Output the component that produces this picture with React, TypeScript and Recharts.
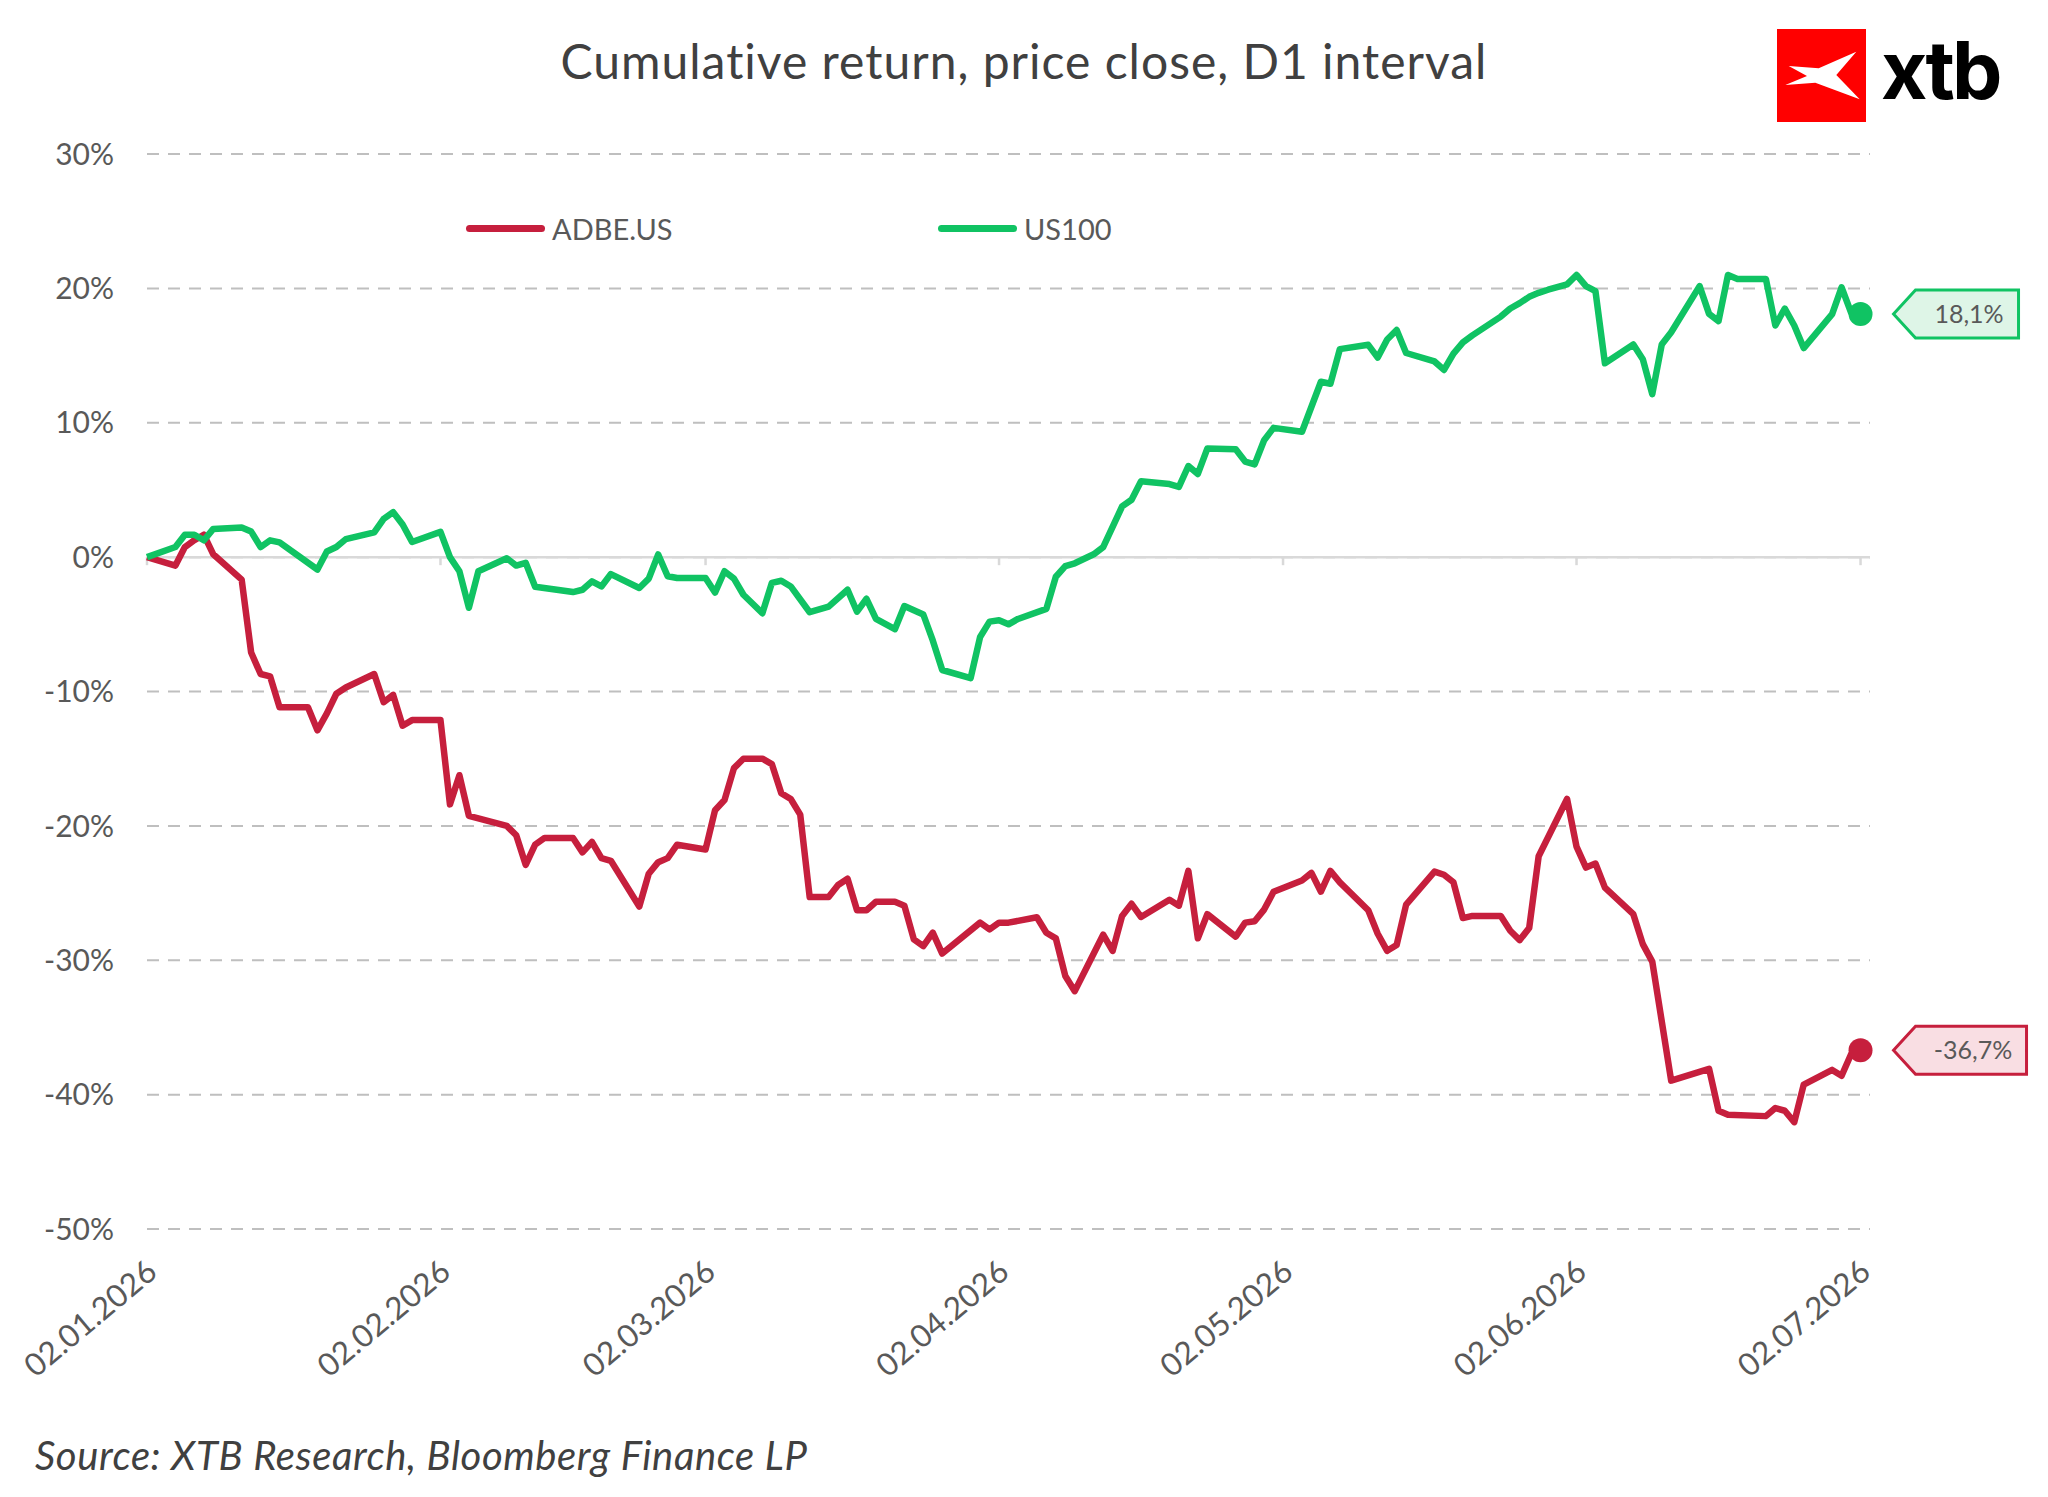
import { LineChart, Line, XAxis, YAxis, CartesianGrid, ReferenceLine, LabelList } from "recharts"

const FONT = "Lato, 'Open Sans', sans-serif"
const TEXT_GREY = "#595959"

// x axis: days counted from 02.01.2026
const monthTicks = [0, 31, 59, 90, 120, 151, 181]
const monthLabels = ["02.01.2026", "02.02.2026", "02.03.2026", "02.04.2026", "02.05.2026", "02.06.2026", "02.07.2026"]
const yTicks = [-50, -40, -30, -20, -10, 0, 10, 20, 30]

const adbeDays = [
  0, 3, 4, 5, 6, 7, 10, 11, 12, 13, 14, 17, 18, 19, 20, 21, 24, 25, 26, 27, 28, 31, 32, 33, 34, 38, 39, 40, 41, 42,
  45, 46, 47, 48, 49, 52, 53, 54, 55, 56, 59, 60, 61, 62, 63, 65, 66, 67, 68, 69, 70, 72, 73, 74, 75, 76, 77, 79, 80,
  81, 82, 83, 84, 88, 89, 90, 91, 94, 95, 96, 97, 98, 101, 102, 103, 104, 105, 108, 109, 110, 111, 112, 115, 116, 117,
  118, 119, 122, 123, 124, 125, 126, 129, 130, 131, 132, 133, 136, 137, 138, 139, 140, 143, 144, 145, 146, 147, 150,
  151, 152, 153, 154, 157, 158, 159, 161, 165, 166, 167, 171, 172, 173, 174, 175, 178, 179, 180, 181,
]
const adbeValues = [
  0, -0.63, 0.75, 1.26, 1.67, 0.21, -1.67, -7.1, -8.7, -8.87, -11.17, -11.17, -12.89, -11.63, -10.17, -9.7, -8.7,
  -10.8, -10.25, -12.55, -12.13, -12.13, -18.4, -16.23, -19.25, -20.0, -20.7, -22.9, -21.4, -20.9, -20.9, -21.97,
  -21.2, -22.4, -22.6, -26.0, -23.56, -22.7, -22.4, -21.4, -21.76, -18.83, -18.08, -15.7, -15.0, -15.0, -15.4, -17.57,
  -18.0, -19.16, -25.3, -25.3, -24.4, -23.93, -26.28, -26.28, -25.65, -25.65, -25.94, -28.45, -28.95, -27.95, -29.5,
  -27.2, -27.7, -27.2, -27.2, -26.8, -27.95, -28.37, -31.17, -32.3, -28.1, -29.3, -26.7, -25.8, -26.78, -25.5, -25.94,
  -23.35, -28.37, -26.57, -28.24, -27.2, -27.1, -26.23, -24.9, -24.06, -23.5, -24.9, -23.35, -24.2, -26.28, -28.03,
  -29.3, -28.87, -25.86, -23.4, -23.64, -24.2, -26.86, -26.7, -26.7, -27.8, -28.5, -27.6, -22.26, -18.0, -21.55, -23.1,
  -22.8, -24.6, -26.57, -28.8, -30.1, -38.96, -38.08, -41.2, -41.5, -41.6, -41.0, -41.2, -42.05, -39.25, -38.16, -38.6,
  -37.0, -36.7,
]

const us100Days = [
  0, 3, 4, 5, 6, 7, 10, 11, 12, 13, 14, 18, 19, 20, 21, 24, 25, 26, 27, 28, 31, 32, 33, 34, 35, 38, 39, 40, 41, 45, 46,
  47, 48, 49, 52, 53, 54, 55, 56, 59, 60, 61, 62, 63, 65, 66, 67, 68, 70, 72, 74, 75, 76, 77, 79, 80, 82, 83, 84, 87,
  88, 89, 90, 91, 92, 95, 96, 97, 98, 100, 101, 103, 104, 105, 108, 109, 110, 111, 112, 115, 116, 117, 118, 119, 122,
  124, 125, 126, 129, 130, 131, 132, 133, 136, 137, 138, 139, 140, 143, 144, 145, 146, 147, 148, 150, 151, 152, 153,
  154, 157, 158, 159, 160, 161, 164, 165, 166, 167, 168, 171, 172, 173, 174, 175, 178, 179, 180, 181,
]
const us100Values = [
  0, 0.75, 1.67, 1.67, 1.25, 2.1, 2.2, 1.9, 0.75, 1.25, 1.1, -0.92, 0.42, 0.75, 1.34, 1.84, 2.85, 3.35, 2.43, 1.13,
  1.88, 0.0, -1.05, -3.77, -1.05, -0.08, -0.63, -0.42, -2.2, -2.6, -2.43, -1.8, -2.18, -1.26, -2.3, -1.6, 0.2, -1.42,
  -1.55, -1.55, -2.64, -1.05, -1.6, -2.8, -4.18, -1.92, -1.76, -2.18, -4.1, -3.68, -2.43, -4.06, -3.1, -4.6, -5.36,
  -3.64, -4.27, -6.2, -8.4, -9.0, -5.94, -4.8, -4.7, -5.0, -4.6, -3.85, -1.46, -0.67, -0.46, 0.21, 0.75, 3.77, 4.27,
  5.65, 5.44, 5.23, 6.78, 6.19, 8.08, 8.03, 7.11, 6.9, 8.7, 9.62, 9.33, 13.05, 12.9, 15.48, 15.8, 14.85, 16.2, 16.9,
  15.19, 14.56, 13.93, 15.15, 15.98, 16.5, 17.9, 18.5, 18.9, 19.37, 19.67, 19.9, 20.3, 21.0, 20.17, 19.8, 14.43, 15.82,
  14.73, 12.13, 15.82, 16.74, 20.17, 18.1, 17.57, 21.0, 20.7, 20.7, 17.24, 18.5, 17.24, 15.56, 18.08, 20.08, 18.2, 18.1,
]

const series = [
  { name: "ADBE.US", color: "#C61F3D", fill: "#F9DEE3", days: adbeDays, values: adbeValues },
  { name: "US100", color: "#10C363", fill: "#DEF5E7", days: us100Days, values: us100Values },
]

const DateTick = ({ x, y, payload }: any) => {
  const label = monthLabels[monthTicks.indexOf(payload.value)]
  const ax = x + 12
  const ay = y + 46
  return (
    <text x={ax} y={ay} transform={`rotate(-40 ${ax} ${ay})`} textAnchor="end" fill={TEXT_GREY} fontSize={31.5} fontFamily={FONT}>
      {label}
    </text>
  )
}

const endDot = (color: string, last: number) => (props: any) =>
  props.index === last ? (
    <circle key={`dot-${props.index}`} cx={props.cx} cy={props.cy} r={12} fill={color} />
  ) : (
    <g key={`dot-${props.index}`} />
  )

// arrow shaped value box next to the last point
const callout = (stroke: string, fill: string, last: number) => (props: any) => {
  const { x, y, value, index } = props
  if (index !== last) return null
  const text = `${Number(value).toFixed(1).replace(".", ",")}%`
  const w = 63 + 8 * text.length
  const tip = x + 33
  const left = tip + 22
  const pts = `${tip},${y} ${left},${y - 24} ${left + w},${y - 24} ${left + w},${y + 24} ${left},${y + 24}`
  return (
    <g>
      <polygon points={pts} fill={fill} stroke={stroke} strokeWidth={3} />
      <text x={left + w / 2 + 2} y={y + 9} textAnchor="middle" fill={TEXT_GREY} fontSize={25} fontFamily={FONT}>
        {text}
      </text>
    </g>
  )
}

export default function App() {
  return (
    <div style={{ position: "absolute", left: 0, top: 0, width: 2048, height: 1497, background: "#fff", fontFamily: FONT }}>
      <LineChart width={2048} height={1497} margin={{ top: 154, right: 178, bottom: 68, left: 0 }}>
        <CartesianGrid vertical={false} stroke="#BFBFBF" strokeDasharray="12 9" strokeWidth={2} />
        <XAxis
          type="number"
          dataKey="day"
          domain={[0, 182]}
          ticks={monthTicks}
          interval={0}
          axisLine={false}
          tickLine={false}
          tickSize={0}
          tickMargin={0}
          height={200}
          tick={<DateTick />}
        />
        <YAxis
          type="number"
          domain={[-50, 30]}
          ticks={yTicks}
          interval={0}
          width={147}
          axisLine={false}
          tickLine={false}
          tickSize={0}
          tickMargin={33}
          tickFormatter={(v: number) => `${v}%`}
          tick={{ fill: TEXT_GREY, fontSize: 30, fontFamily: FONT }}
        />
        <ReferenceLine y={0} stroke="#D9D9D9" strokeWidth={2.5} />
        {monthTicks.map((d) => (
          <ReferenceLine
            key={`tick-${d}`}
            segment={[
              { x: d, y: 0 },
              { x: d, y: -0.6 },
            ]}
            stroke="#D9D9D9"
            strokeWidth={2.5}
          />
        ))}
        {series.map((s) => {
          const data = s.days.map((day, i) => ({ day, value: s.values[i] }))
          const last = data.length - 1
          return (
            <Line
              key={s.name}
              data={data}
              dataKey="value"
              name={s.name}
              type="linear"
              stroke={s.color}
              strokeWidth={6.5}
              strokeLinejoin="round"
              dot={endDot(s.color, last)}
              activeDot={false}
              isAnimationActive={false}
            >
              <LabelList dataKey="value" content={callout(s.color, s.fill, last)} />
            </Line>
          )
        })}
      </LineChart>

      {/* legend */}
      {series.map((s, i) => (
        <div
          key={s.name}
          style={{ position: "absolute", left: 466 + i * 472, top: 208, height: 40, display: "flex", alignItems: "center", fontSize: 29, color: TEXT_GREY }}
        >
          <div style={{ width: 79, height: 7, borderRadius: 3.5, background: s.color, marginRight: 7 }} />
          <span>{s.name}</span>
        </div>
      ))}

      {/* title, logo, source */}
      <svg width={2048} height={1497} style={{ position: "absolute", left: 0, top: 0, pointerEvents: "none" }}>
        <text x={1024} y={79} textAnchor="middle" fill="#404040" fontSize={48} letterSpacing={1} fontFamily={FONT}>
          Cumulative return, price close, D1 interval
        </text>
        <g transform="translate(1777 29)">
          <rect width={89} height={93} fill="#FF0000" />
          <polygon points="11.7,37 41.7,39.3 79.3,22.7 59.3,46 82.7,70.3 38.3,53.7 8.3,56 30,47" fill="#fff" />
        </g>
        <text x={1881} y={99} fill="#000" fontSize={80} fontWeight={700} fontFamily="Inter, 'DejaVu Sans', sans-serif" letterSpacing={-3}>
          xtb
        </text>
        <text x={35} y={1470} fill="#404040" fontSize={40} letterSpacing={0.6} fontStyle="italic" fontFamily={FONT}>
          Source: XTB Research, Bloomberg Finance LP
        </text>
      </svg>
    </div>
  )
}
